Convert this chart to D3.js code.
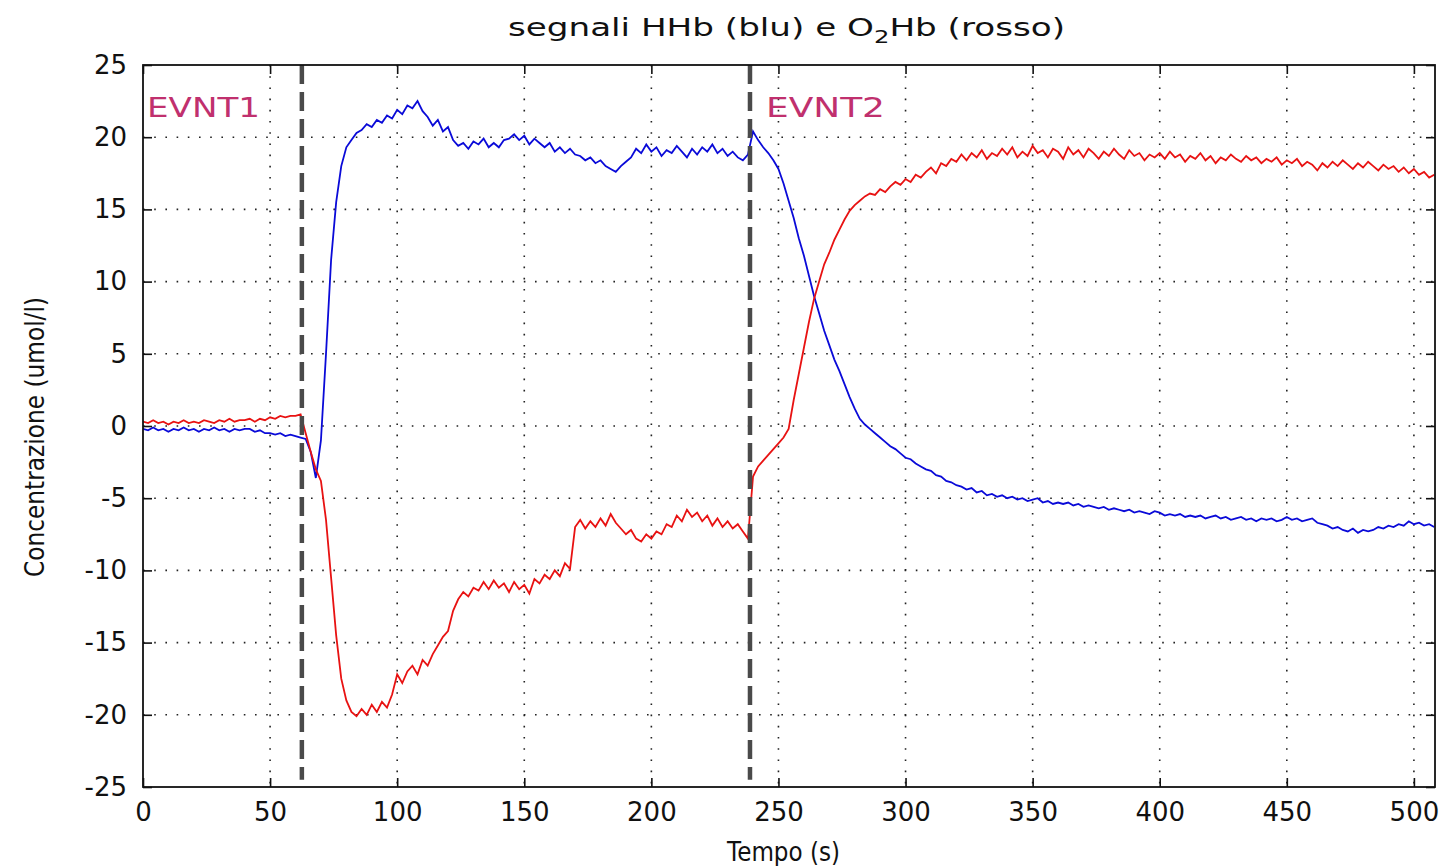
<!DOCTYPE html>
<html>
<head>
<meta charset="utf-8">
<script src="https://cdn.jsdelivr.net/npm/d3@7"></script>
<style>
  body { margin: 0; background: #fff; }
  svg { display: block; }
  text { font-family: "DejaVu Sans", "Liberation Sans", sans-serif; fill: #111; }
</style>
</head>
<body>
<svg id="chart" width="1445" height="866"></svg>
<script>
// Sampling: one value every 2 s, from 0 s to 508 s (10 values per row = 20 s)
const tStart = 0;
const tStep = 2;

// HHb signal (blue), umol/l
const hhb = [
  -0.2,-0.3,-0.1,-0.3,-0.2,-0.4,-0.2,-0.3,-0.1,-0.3,
  -0.2,-0.4,-0.2,-0.3,-0.1,-0.3,-0.2,-0.4,-0.2,-0.3,
  -0.2,-0.2,-0.4,-0.3,-0.5,-0.5,-0.6,-0.5,-0.7,-0.6,
  -0.7,-0.8,-0.9,-1.8,-3.6,-1.0,5.0,11.5,15.5,18.0,
  19.3,19.8,20.3,20.5,20.9,20.7,21.2,21.0,21.5,21.3,
  21.9,21.6,22.2,22.0,22.5,21.8,21.4,20.8,21.2,20.4,
  20.7,19.8,19.4,19.6,19.2,19.7,19.5,19.9,19.3,19.6,
  19.3,19.8,19.9,20.2,19.8,20.1,19.5,19.9,19.6,19.3,
  19.6,19.0,19.3,18.9,19.2,18.8,18.7,18.4,18.6,18.2,
  18.4,18.0,17.8,17.6,18.0,18.3,18.6,19.2,18.9,19.5,
  19.0,19.3,18.7,19.1,18.9,19.4,19.0,18.6,19.2,18.8,
  19.3,19.0,19.5,18.9,19.2,18.7,19.0,18.6,18.4,18.8,
  20.4,19.8,19.3,18.9,18.4,17.8,16.8,15.6,14.4,13.0,
  11.8,10.4,9.0,7.8,6.6,5.6,4.6,3.8,2.9,2.0,
  1.2,0.5,0.1,-0.2,-0.5,-0.8,-1.1,-1.4,-1.6,-1.9,
  -2.2,-2.3,-2.6,-2.8,-3.0,-3.1,-3.4,-3.5,-3.8,-3.9,
  -4.1,-4.2,-4.4,-4.3,-4.6,-4.5,-4.8,-4.7,-4.9,-4.8,
  -5.0,-4.9,-5.1,-5.0,-5.2,-5.1,-5.0,-5.3,-5.2,-5.4,
  -5.3,-5.4,-5.3,-5.5,-5.4,-5.6,-5.5,-5.6,-5.7,-5.6,
  -5.8,-5.7,-5.8,-5.9,-5.8,-6.0,-5.9,-6.0,-6.1,-5.9,
  -6.0,-6.2,-6.1,-6.2,-6.1,-6.3,-6.2,-6.3,-6.2,-6.4,
  -6.3,-6.2,-6.4,-6.3,-6.5,-6.4,-6.3,-6.5,-6.4,-6.6,
  -6.4,-6.5,-6.4,-6.6,-6.5,-6.3,-6.5,-6.4,-6.6,-6.5,
  -6.4,-6.7,-6.8,-6.9,-7.1,-7.0,-7.2,-7.3,-7.1,-7.4,
  -7.2,-7.3,-7.2,-7.0,-7.1,-6.9,-7.0,-6.8,-6.9,-6.6,
  -6.8,-6.7,-6.9,-6.8,-7.0
];

// O2Hb signal (red), umol/l
const o2hb = [
  0.3,0.2,0.4,0.2,0.3,0.1,0.3,0.2,0.4,0.2,
  0.3,0.2,0.4,0.3,0.2,0.4,0.3,0.5,0.3,0.4,
  0.4,0.5,0.3,0.5,0.4,0.6,0.5,0.7,0.6,0.7,
  0.7,0.8,-0.5,-1.8,-3.0,-3.8,-6.5,-10.5,-14.5,-17.5,
  -19.0,-19.8,-20.1,-19.6,-20.0,-19.3,-19.8,-19.1,-19.5,-18.6,
  -17.2,-17.8,-17.0,-16.6,-17.2,-16.2,-16.6,-15.8,-15.2,-14.6,
  -14.2,-12.8,-12.0,-11.5,-11.8,-11.2,-11.4,-10.8,-11.3,-10.7,
  -11.2,-10.9,-11.5,-10.8,-11.3,-11.0,-11.6,-10.6,-10.9,-10.3,
  -10.6,-10.0,-10.4,-9.5,-9.9,-7.0,-6.5,-7.1,-6.6,-7.0,
  -6.4,-6.9,-6.1,-6.7,-7.1,-7.5,-7.2,-7.8,-8.0,-7.5,
  -7.8,-7.3,-7.5,-6.8,-7.0,-6.2,-6.6,-5.8,-6.3,-6.0,
  -6.6,-6.2,-6.9,-6.4,-7.0,-6.6,-7.1,-6.8,-7.3,-7.8,
  -3.5,-2.8,-2.4,-2.0,-1.6,-1.2,-0.8,-0.2,1.8,3.6,
  5.4,7.2,8.8,10.0,11.2,12.0,12.9,13.6,14.3,14.9,
  15.3,15.6,15.9,16.1,16.0,16.4,16.2,16.6,16.9,16.7,
  17.1,16.9,17.4,17.2,17.6,17.9,17.5,18.2,18.0,18.5,
  18.3,18.8,18.4,18.9,18.6,19.1,18.5,18.9,18.7,19.2,
  18.8,19.3,18.6,19.0,18.7,19.4,18.9,19.1,18.6,19.2,
  19.0,18.5,19.3,18.8,19.1,18.6,19.2,18.9,18.5,19.0,
  18.7,19.2,18.8,18.5,19.1,18.7,18.9,18.4,18.8,18.6,
  18.9,18.5,19.0,18.6,18.8,18.3,18.7,18.5,18.9,18.4,
  18.7,18.2,18.6,18.4,18.8,18.5,18.3,18.7,18.4,18.6,
  18.2,18.5,18.3,18.6,18.1,18.4,18.2,18.5,18.0,18.3,
  18.1,17.7,18.2,17.9,18.3,18.0,18.4,18.1,17.8,18.2,
  17.9,18.3,18.0,17.7,18.1,17.8,18.0,17.6,17.9,17.5,
  17.8,17.4,17.6,17.2,17.4
];

// Event markers
const eventTimes = [62.5, 238.8];
const eventLabels = ["EVNT1", "EVNT2"];

// Axis ticks
const xTicks = [0, 50, 100, 150, 200, 250, 300, 350, 400, 450, 500];
const yTicks = [-25, -20, -15, -10, -5, 0, 5, 10, 15, 20, 25];

const svg = d3.select('#chart');
const margin = { top: 65, right: 10, bottom: 79, left: 143 };
const width = 1445 - margin.left - margin.right;
const height = 866 - margin.top - margin.bottom;

const x = d3.scaleLinear().domain([0, 508.3]).range([0, width]);
const y = d3.scaleLinear().domain([-25, 25]).range([height, 0]);

const g = svg.append('g').attr('transform', `translate(${margin.left},${margin.top})`);

g.append('clipPath').attr('id', 'clip')
  .append('rect').attr('width', width).attr('height', height);

// Dotted grid
g.selectAll('.vgrid').data(xTicks.filter(d => d > 0)).enter()
  .append('line')
  .attr('x1', d => x(d)).attr('x2', d => x(d))
  .attr('y1', 0).attr('y2', height)
  .attr('stroke', '#222').attr('stroke-width', 1.6)
  .attr('stroke-dasharray', '1.6,9.6');

g.selectAll('.hgrid').data(yTicks.filter(d => d > -25 && d < 25)).enter()
  .append('line')
  .attr('x1', 0).attr('x2', width)
  .attr('y1', d => y(d)).attr('y2', d => y(d))
  .attr('stroke', '#222').attr('stroke-width', 1.6)
  .attr('stroke-dasharray', '1.6,9.6');

// Signals
const line = d3.line()
  .x((d, i) => x(tStart + i * tStep))
  .y(d => y(d));

const plot = g.append('g').attr('clip-path', 'url(#clip)');

plot.append('path').datum(hhb)
  .attr('d', line)
  .attr('fill', 'none')
  .attr('stroke', '#0a0ad8')
  .attr('stroke-width', 1.8);

plot.append('path').datum(o2hb)
  .attr('d', line)
  .attr('fill', 'none')
  .attr('stroke', '#e81212')
  .attr('stroke-width', 1.8);

// Event lines
g.selectAll('.event').data(eventTimes).enter()
  .append('line')
  .attr('x1', d => x(d)).attr('x2', d => x(d))
  .attr('y1', y(25)).attr('y2', y(-24.5))
  .attr('stroke', '#4a4a4a')
  .attr('stroke-width', 4.5)
  .attr('stroke-dasharray', '19,8');

// Event labels
g.selectAll('.evlabel').data(eventTimes).enter()
  .append('text')
  .attr('x', (d, i) => i === 0 ? 4 : x(d) + 16)
  .attr('y', y(21.4))
  .attr('font-size', 27)
  .attr('textLength', (d, i) => i === 0 ? 113 : 119)
  .attr('lengthAdjust', 'spacingAndGlyphs')
  .style('fill', '#c0306e')
  .text((d, i) => eventLabels[i]);

// Axes with inward ticks on all four sides
const tickLen = 9;
const fmt = d => String(d);
const xBottom = g.append('g').attr('transform', `translate(0,${height})`)
  .call(d3.axisBottom(x).tickValues(xTicks).tickSize(-tickLen).tickFormat(fmt));
const xTop = g.append('g')
  .call(d3.axisTop(x).tickValues(xTicks).tickSize(-tickLen).tickFormat(''));
const yLeft = g.append('g')
  .call(d3.axisLeft(y).tickValues(yTicks).tickSize(-tickLen).tickPadding(16).tickFormat(fmt));
const yRight = g.append('g').attr('transform', `translate(${width},0)`)
  .call(d3.axisRight(y).tickValues(yTicks).tickSize(-tickLen).tickFormat(''));

[xBottom, xTop, yLeft, yRight].forEach(ax => {
  ax.select('.domain').remove();
  ax.selectAll('.tick line').attr('stroke', '#111').attr('stroke-width', 1.6);
  ax.selectAll('.tick text')
    .attr('font-size', 26)
    .attr('font-family', '"DejaVu Sans", sans-serif')
    .style('fill', '#111');
});
xBottom.selectAll('.tick text').attr('y', 26).attr('dy', '0.32em');

// Box
g.append('rect')
  .attr('width', width).attr('height', height)
  .attr('fill', 'none')
  .attr('stroke', '#111')
  .attr('stroke-width', 1.8);

// Title
const title = svg.append('text')
  .attr('x', 508).attr('y', 36)
  .attr('font-size', 24)
  .attr('textLength', 557)
  .attr('lengthAdjust', 'spacingAndGlyphs');
title.append('tspan').text('segnali HHb (blu) e O');
title.append('tspan').attr('font-size', 17).attr('dy', 7).text('2');
title.append('tspan').attr('dy', -7).text('Hb (rosso)');

// Axis labels
svg.append('text')
  .attr('x', 727).attr('y', 861)
  .attr('font-size', 26)
  .attr('textLength', 113)
  .attr('lengthAdjust', 'spacingAndGlyphs')
  .text('Tempo (s)');

svg.append('text')
  .attr('transform', 'translate(44,577) rotate(-90)')
  .attr('font-size', 26)
  .attr('textLength', 280)
  .attr('lengthAdjust', 'spacingAndGlyphs')
  .text('Concentrazione (umol/l)');
</script>
</body>
</html>
